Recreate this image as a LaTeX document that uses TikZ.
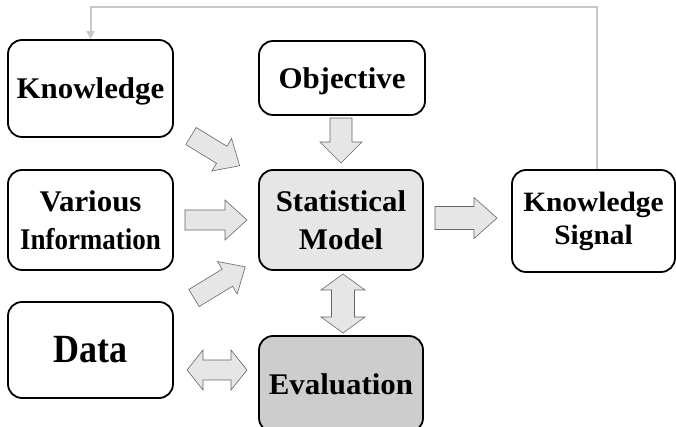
\documentclass[tikz,border=0pt]{standalone}
\usepackage{fontspec}
\setmainfont{Liberation Serif}[FakeStretch=1.03]
\newfontfamily\condensedfont{Liberation Serif}[FakeStretch=0.9]
\newfontfamily\datafont{Liberation Serif}[FakeStretch=0.9]
\newfontfamily\ksfont{Liberation Serif}[FakeStretch=1.05]
\usetikzlibrary{arrows.meta}
\definecolor{statfill}{HTML}{E6E6E6}
\definecolor{evalfill}{HTML}{CDCDCD}
\definecolor{arrfill}{HTML}{E6E6E6}
\definecolor{arredge}{HTML}{666666}
\definecolor{fbline}{HTML}{C8C8C8}
\newcommand{\SArrow}[6]{%
  \draw[blockarrow,shift={#1},rotate=#2] (0,-#4) -- ({#3-#6},-#4) -- ({#3-#6},-#5) -- (#3,0) -- ({#3-#6},#5) -- ({#3-#6},#4) -- (0,#4) -- cycle;}
\newcommand{\DArrow}[6]{%
  \draw[blockarrow,shift={#1},rotate=#2] (0,0) -- (#6,#5) -- (#6,#4) -- ({#3-#6},#4) -- ({#3-#6},#5) -- (#3,0) -- ({#3-#6},-#5) -- ({#3-#6},-#4) -- (#6,-#4) -- (#6,-#5) -- cycle;}
\begin{document}
\begin{tikzpicture}[x=1pt,y=1pt,
  box/.style={draw=black,line width=1.8pt,rounded corners=14pt,fill=white,
    align=center,inner sep=0pt,font=\bfseries\fontsize{30}{37.5}\selectfont},
  blockarrow/.style={draw=arredge,line width=0.6pt,fill=arrfill,line join=miter},
  fb/.style={draw=fbline,line width=2pt}]
\useasboundingbox (0,0) rectangle (676,427);
\clip (0,0) rectangle (676,427);
% boxes
\node[box,minimum width=165,minimum height=97,text depth=0pt] (know) at (90.5,338.5) {Knowledge};
\node[box,minimum width=166,minimum height=74,text depth=0pt] (obj) at (342,349) {Objective};
\node[box,minimum width=165,minimum height=100] (var) at (90.5,207) {Various\\{\condensedfont Information}};
\node[box,minimum width=164,minimum height=100,fill=statfill] (stat) at (341,207) {Statistical\\Model};
\node[box,minimum width=165,minimum height=96,font=\datafont\bfseries\fontsize{40}{44}\selectfont] (data) at (90.5,77) {Data};
\node[box,minimum width=164,minimum height=96,fill=evalfill] (eval) at (341,43) {Evaluation};
\node[box,minimum width=163,minimum height=102,font=\ksfont\bfseries\fontsize{28}{33}\selectfont] (ks) at (593.5,206) {Knowledge\\Signal};
% feedback line
\draw[fb,-{Triangle[length=8pt,width=8pt]}] ([xshift=3.5pt]ks.north) |- ([yshift=32pt]know.north) -- (know.north);
% block arrows
\SArrow{(191,291)}{-31.5}{57}{10}{19}{21}
\SArrow{(185,207)}{0}{62}{10}{20}{22}
\SArrow{(194,129)}{31.3}{60}{10}{19}{21}
\SArrow{(341,309)}{-90}{45}{11}{21}{21}
\SArrow{(435,209)}{0}{62}{11.5}{20.5}{23}
\DArrow{(343,153)}{-90}{59}{11.5}{22}{16}
\DArrow{(187,57)}{0}{60}{10}{20}{16}
\end{tikzpicture}
\end{document}
